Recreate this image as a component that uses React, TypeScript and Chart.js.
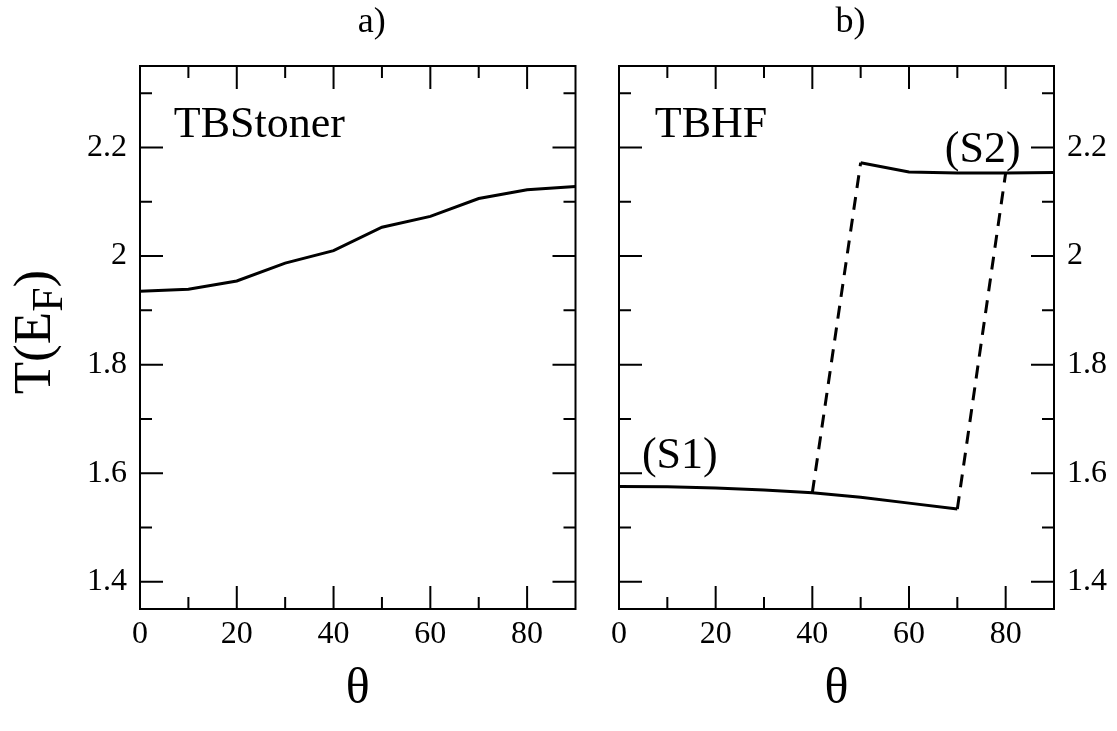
import React, { useEffect, useRef } from "react";
import { Chart, registerables } from "chart.js";

Chart.register(...registerables);

// ---------------- data ----------------
const thetaStoner = [0, 10, 20, 30, 40, 50, 60, 70, 80, 90];
const tbStoner = [1.935, 1.939, 1.954, 1.987, 2.01, 2.053, 2.073, 2.106, 2.122, 2.128];

const thetaS1 = [0, 10, 20, 30, 40, 50, 60, 70];
const tbhfS1 = [1.5755, 1.575, 1.573, 1.569, 1.564, 1.556, 1.545, 1.534];

const thetaS2 = [50, 60, 70, 80, 90];
const tbhfS2 = [2.172, 2.155, 2.153, 2.153, 2.154];

const thetaJump1 = [40, 50];
const tbhfJump1 = [1.564, 2.172];
const thetaJump2 = [70, 80];
const tbhfJump2 = [1.534, 2.153];

const xMajorTicks = [0, 20, 40, 60, 80];
const xMinorTicks = [10, 30, 50, 70];
const yMajorTicks = [1.4, 1.6, 1.8, 2.0, 2.2];
const yMinorTicks = [1.5, 1.7, 1.9, 2.1, 2.3];

const X_MIN = 0, X_MAX = 90, Y_MIN = 1.35, Y_MAX = 2.35;

const SERIF = "'Liberation Serif', 'Times New Roman', serif";

const pts = (xs: number[], ys: number[]) => xs.map((x, i) => ({ x, y: ys[i] }));

// ---------------- plugin ----------------
const framePlugin = {
  id: "frameDeco",
  afterDraw(chart: any) {
    const cfg = chart.options.plugins.frameDeco;
    if (!cfg) return;
    const { ctx, chartArea: a } = chart;
    const xs = chart.scales.x, ys = chart.scales.y;
    ctx.save();
    ctx.strokeStyle = "#000";
    ctx.lineWidth = 2;
    ctx.strokeRect(a.left, a.top, a.right - a.left, a.bottom - a.top);
    const major = 23, minor = 12;
    ctx.beginPath();
    const vx = (v: number, len: number) => {
      const px = xs.getPixelForValue(v);
      ctx.moveTo(px, a.bottom); ctx.lineTo(px, a.bottom - len);
      ctx.moveTo(px, a.top); ctx.lineTo(px, a.top + len);
    };
    const hy = (v: number, len: number) => {
      const py = ys.getPixelForValue(v);
      ctx.moveTo(a.left, py); ctx.lineTo(a.left + len, py);
      ctx.moveTo(a.right, py); ctx.lineTo(a.right - len, py);
    };
    xMajorTicks.forEach((v) => vx(v, major));
    xMinorTicks.forEach((v) => vx(v, minor));
    yMajorTicks.forEach((v) => hy(v, major));
    yMinorTicks.forEach((v) => hy(v, minor));
    ctx.stroke();

    ctx.fillStyle = "#000";
    // panel title
    ctx.textAlign = "center";
    ctx.textBaseline = "alphabetic";
    ctx.font = `36px ${SERIF}`;
    ctx.fillText(cfg.title, (a.left + a.right) / 2 + 14, 32);
    // x axis title
    ctx.font = `50px ${SERIF}`;
    ctx.fillText("θ", (a.left + a.right) / 2, 703);
    // annotations (placed in data coordinates)
    ctx.textAlign = "left";
    ctx.font = `44px ${SERIF}`;
    (cfg.notes || []).forEach((n: any) => {
      ctx.fillText(n.text, xs.getPixelForValue(n.x), ys.getPixelForValue(n.y));
    });
    // y axis title
    if (cfg.yTitle) {
      const big = 53, small = 44;
      ctx.font = `${big}px ${SERIF}`;
      const w1 = ctx.measureText("T(E").width;
      const w3 = ctx.measureText(")").width;
      ctx.font = `${small}px ${SERIF}`;
      const w2 = ctx.measureText("F").width;
      const total = w1 + w2 + w3;
      const cy = 332;
      ctx.translate(50, cy + total / 2);
      ctx.rotate(-Math.PI / 2);
      ctx.font = `${big}px ${SERIF}`;
      ctx.fillText("T(E", 0, 0);
      ctx.font = `${small}px ${SERIF}`;
      ctx.fillText("F", w1, 12);
      ctx.font = `${big}px ${SERIF}`;
      ctx.fillText(")", w1 + w2, 0);
    }
    ctx.restore();
  },
};

const lineDs = (data: any[], dashed = false) => ({
  data,
  borderColor: "#000",
  borderWidth: 3,
  borderDash: dashed ? [13, 9] : [],
  pointRadius: 0,
  tension: 0,
  fill: false,
});

const makeOptions = (side: "left" | "right", deco: any) => ({
  animation: false,
  responsive: false,
  maintainAspectRatio: false,
  layout: {
    padding: side === "left" ? { left: 0, right: 14.5, top: 66, bottom: 0 } : { left: 29, right: 0, top: 66, bottom: 0 },
  },
  plugins: {
    legend: { display: false },
    tooltip: { enabled: false },
    title: { display: false },
    frameDeco: deco,
  },
  scales: {
    x: {
      type: "linear",
      min: X_MIN,
      max: X_MAX,
      grid: { display: false, drawTicks: false },
      border: { display: false },
      ticks: {
        color: "#000",
        font: { family: SERIF, size: 32 },
        padding: 6,
        maxRotation: 0,
        autoSkip: false,
        callback: (v: any) => String(v),
      },
      afterBuildTicks: (s: any) => {
        s.ticks = xMajorTicks.map((v) => ({ value: v }));
      },
      afterFit: (s: any) => {
        s.height = 122;
      },
    },
    y: {
      type: "linear",
      position: side,
      min: Y_MIN,
      max: Y_MAX,
      grid: { display: false, drawTicks: false },
      border: { display: false },
      ticks: {
        color: "#000",
        font: { family: SERIF, size: 32 },
        padding: 13,
        autoSkip: false,
        callback: (v: any) => String(Number(Number(v).toFixed(1))),
      },
      afterBuildTicks: (s: any) => {
        s.ticks = yMajorTicks.map((v) => ({ value: v }));
      },
      afterFit: (s: any) => {
        s.width = side === "left" ? 140 : 63;
      },
    },
  },
});

function Panel(props: { left: number; width: number; build: () => any }) {
  const ref = useRef<HTMLCanvasElement | null>(null);
  useEffect(() => {
    if (!ref.current) return;
    const chart = new Chart(ref.current, props.build());
    return () => chart.destroy();
  }, []);
  return (
    <canvas
      ref={ref}
      width={props.width}
      height={731}
      style={{ position: "absolute", left: props.left, top: 0, width: props.width, height: 731 }}
    />
  );
}

export default function App() {
  const buildA = () => ({
    type: "line",
    data: { datasets: [lineDs(pts(thetaStoner, tbStoner))] },
    options: makeOptions("left", {
      title: "a)",
      yTitle: true,
      notes: [{ text: "TBStoner", x: 7, y: 2.22 }],
    }),
    plugins: [framePlugin],
  });
  const buildB = () => ({
    type: "line",
    data: {
      datasets: [
        lineDs(pts(thetaS1, tbhfS1)),
        lineDs(pts(thetaS2, tbhfS2)),
        lineDs(pts(thetaJump1, tbhfJump1), true),
        lineDs(pts(thetaJump2, tbhfJump2), true),
      ],
    },
    options: makeOptions("right", {
      title: "b)",
      yTitle: false,
      notes: [
        { text: "TBHF", x: 7.4, y: 2.22 },
        { text: "(S1)", x: 4.75, y: 1.61 },
        { text: "(S2)", x: 67.4, y: 2.174 },
      ],
    }),
    plugins: [framePlugin],
  });
  return (
    <div style={{ position: "fixed", left: 0, top: 0, width: 1117, height: 731, background: "#fff", overflow: "hidden" }}>
      <Panel left={0} width={590} build={buildA} />
      <Panel left={590} width={527} build={buildB} />
    </div>
  );
}
